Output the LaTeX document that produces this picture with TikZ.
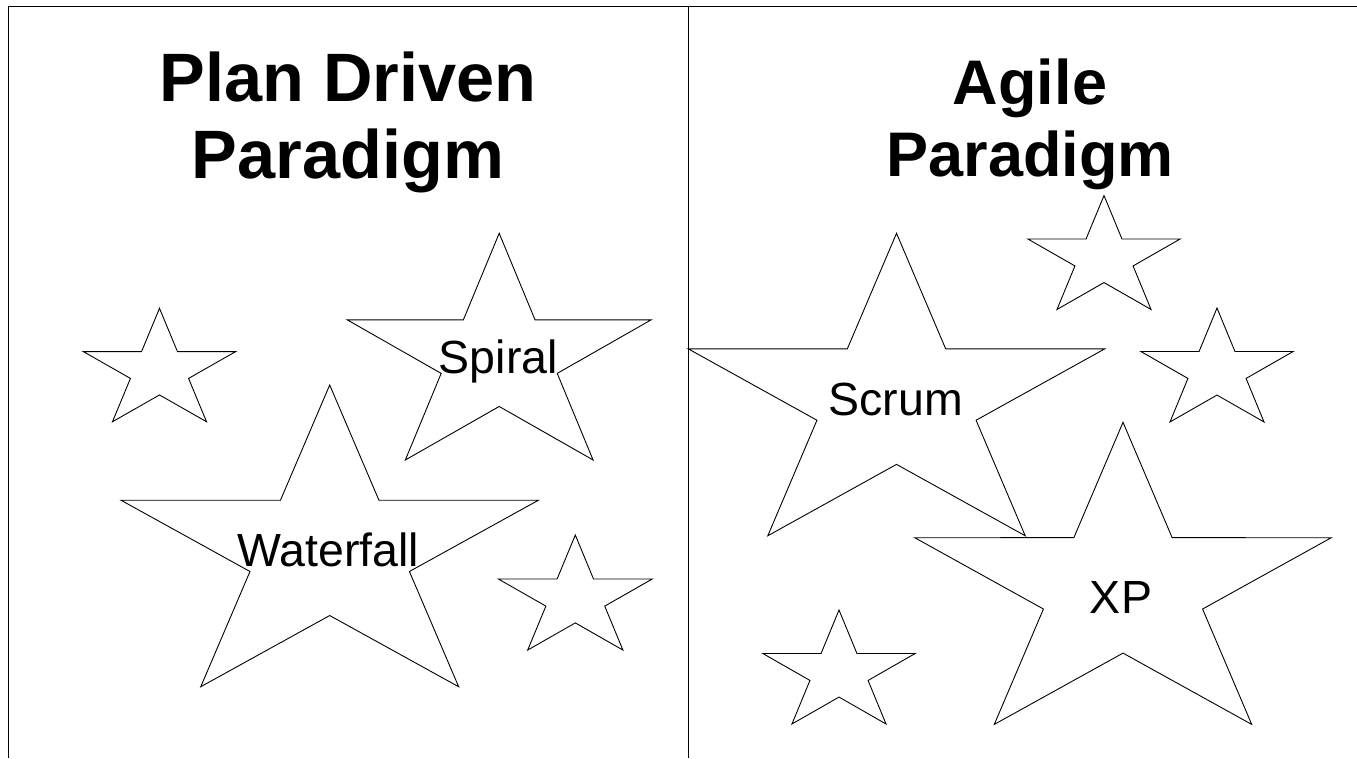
\documentclass[tikz,border=0pt]{standalone}
\usepackage{fontspec}
\setmainfont{Liberation Sans}
\usetikzlibrary{calc}
\tikzset{
  starline/.style={draw=black, line width=0.9pt, line join=miter},
  frameline/.style={draw=black, line width=1pt},
  titletext/.style={font=\bfseries\fontsize{68.5}{77}\selectfont, align=center, inner sep=0pt},
  titletextR/.style={font=\bfseries\fontsize{63}{72}\selectfont, align=center, inner sep=0pt},
  labeltext/.style={font=\fontsize{46.5}{50}\selectfont, inner sep=0pt, anchor=base},
}
\newcommand{\mystar}[4]{%
  \draw[starline] ({#1+#3*cos(270)},{#2+#4*sin(270)})
    \foreach \k [evaluate=\k as \f using {mod(\k,2)==1 ? 0.382 : 1}] in {1,...,9} {
      -- ({#1+\f*#3*cos(270+36*\k)},{#2+\f*#4*sin(270+36*\k)})
    } -- cycle;}
\begin{document}
\begin{tikzpicture}[x={(1pt,0)}, y={(0,-1pt)}]
\useasboundingbox (0,0) rectangle (1357,758);
% frame lines
\coordinate (tl) at (8,6);
\coordinate (tr) at (1357,6);
\coordinate (bl) at (8,758);
\coordinate (tm) at (688,6);
\coordinate (bm) at (688,758);
\draw[frameline] (tr) -- (tl) -- (bl);
\draw[frameline] (tm) -- (bm);
% titles
\node[titletext] (plan) at (348,122) {Plan Driven\\Paradigm};
\node[titletextR] (agile) at (1030,124) {Agile\\Paradigm};
% stars, left panel
\mystar{159.5}{371}{80}{62.7}
\mystar{499.2}{358.6}{159.7}{125.3}
\mystar{329.7}{551.8}{219.4}{166.8}
\mystar{575.3}{598.6}{81}{63.6}
% stars, right panel
\mystar{896.5}{400.5}{219}{167.2}
\mystar{1104}{258.5}{80}{63}
\mystar{1217}{371}{80}{63}
\mystar{1123}{589.3}{219}{167}
\mystar{839}{673}{80}{63}
% labels
\node[labeltext] (spiral) at (498.3,373.3) {Spiral};
\node[labeltext] (waterfall) at (328.3,566.7) {Waterfall};
\node[labeltext] (scrum) at (895.8,415.7) {Scrum};
\node[labeltext] (xp) at (1121,613) {XP};
\end{tikzpicture}
\end{document}
